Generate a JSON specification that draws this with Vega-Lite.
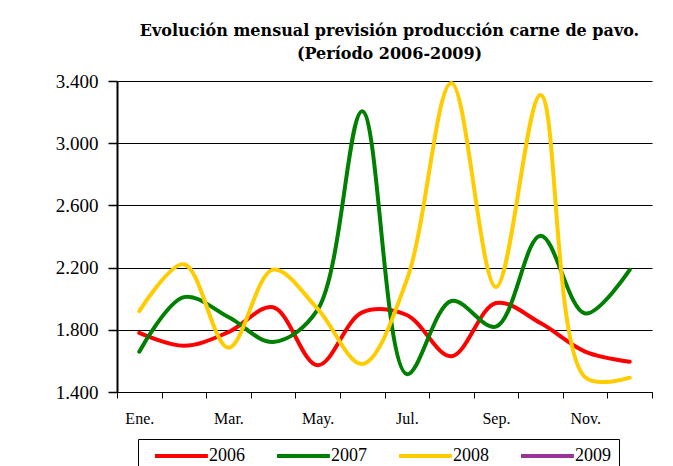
{
  "$schema": "https://vega.github.io/schema/vega-lite/v6.json",
  "autosize": "none",
  "padding": {"left": 117, "top": 81, "right": 21, "bottom": 74},
  "width": 535,
  "height": 311,
  "background": "white",
  "title": {
    "text": ["Evolución mensual previsión producción carne de pavo.", "(Período 2006-2009)"],
    "anchor": "middle",
    "font": "DejaVu Serif",
    "fontSize": 16,
    "fontWeight": "bold",
    "lineHeight": 23,
    "offset": 10,
    "color": "black",
    "dx": 5
  },
  "data": {
    "values": [
      {"mes": 1, "anio": "2006", "valor": 1780},
      {"mes": 2, "anio": "2006", "valor": 1697},
      {"mes": 3, "anio": "2006", "valor": 1785},
      {"mes": 4, "anio": "2006", "valor": 1945},
      {"mes": 5, "anio": "2006", "valor": 1572},
      {"mes": 6, "anio": "2006", "valor": 1912},
      {"mes": 7, "anio": "2006", "valor": 1895},
      {"mes": 8, "anio": "2006", "valor": 1630},
      {"mes": 9, "anio": "2006", "valor": 1972},
      {"mes": 10, "anio": "2006", "valor": 1843},
      {"mes": 11, "anio": "2006", "valor": 1660},
      {"mes": 12, "anio": "2006", "valor": 1595},
      {"mes": 1, "anio": "2007", "valor": 1659},
      {"mes": 2, "anio": "2007", "valor": 2010},
      {"mes": 3, "anio": "2007", "valor": 1882},
      {"mes": 4, "anio": "2007", "valor": 1722},
      {"mes": 5, "anio": "2007", "valor": 1930},
      {"mes": 6, "anio": "2007", "valor": 3205},
      {"mes": 7, "anio": "2007", "valor": 1515},
      {"mes": 8, "anio": "2007", "valor": 1985},
      {"mes": 9, "anio": "2007", "valor": 1820},
      {"mes": 10, "anio": "2007", "valor": 2405},
      {"mes": 11, "anio": "2007", "valor": 1905},
      {"mes": 12, "anio": "2007", "valor": 2185},
      {"mes": 1, "anio": "2008", "valor": 1920},
      {"mes": 2, "anio": "2008", "valor": 2222},
      {"mes": 3, "anio": "2008", "valor": 1685},
      {"mes": 4, "anio": "2008", "valor": 2187},
      {"mes": 5, "anio": "2008", "valor": 1935},
      {"mes": 6, "anio": "2008", "valor": 1580},
      {"mes": 7, "anio": "2008", "valor": 2120},
      {"mes": 8, "anio": "2008", "valor": 3387},
      {"mes": 9, "anio": "2008", "valor": 2075},
      {"mes": 10, "anio": "2008", "valor": 3310},
      {"mes": 11, "anio": "2008", "valor": 1495},
      {"mes": 12, "anio": "2008", "valor": 1492}
    ]
  },
  "mark": {"type": "line", "interpolate": "catmull-rom", "strokeCap": "round", "strokeJoin": "round"},
  "encoding": {
    "x": {
      "field": "mes",
      "type": "quantitative",
      "scale": {"domain": [0.5, 12.5], "nice": false, "zero": false},
      "axis": {
        "title": null,
        "values": [0.5, 1, 1.5, 2, 2.5, 3, 3.5, 4, 4.5, 5, 5.5, 6, 6.5, 7, 7.5, 8, 8.5, 9, 9.5, 10, 10.5, 11, 11.5, 12, 12.5],
        "labelExpr": "datum.value % 2 === 1 ? ['Ene.','Feb.','Mar.','Abr.','May.','Jun.','Jul.','Ago.','Sep.','Oct.','Nov.','Dic.'][datum.value - 1] : ''",
        "tickColor": {"condition": {"test": "datum.value % 1 === 0", "value": "transparent"}, "value": "black"},
        "tickWidth": 1,
        "grid": false,
        "domainColor": "black",
        "domainWidth": 1,
        "tickSize": 6,
        "labelFont": "Liberation Serif",
        "labelFontSize": 16,
        "labelColor": "black",
        "labelPadding": 12,
        "labelOverlap": false,
        "labelFlush": false,
        "labelBound": false
      }
    },
    "y": {
      "field": "valor",
      "type": "quantitative",
      "scale": {"domain": [1400, 3400], "nice": false, "zero": false},
      "axis": {
        "title": null,
        "values": [1400, 1800, 2200, 2600, 3000, 3400],
        "labelExpr": "replace(format(datum.value, ','), ',', '.')",
        "grid": true,
        "gridColor": "black",
        "gridWidth": 1,
        "gridOpacity": 1,
        "domainColor": "black",
        "domainWidth": 2,
        "tickColor": "black",
        "tickWidth": 1.5,
        "tickSize": 9,
        "labelFont": "Liberation Serif",
        "labelFontSize": 19,
        "labelColor": "black",
        "labelPadding": 10
      }
    },
    "color": {
      "field": "anio",
      "type": "nominal",
      "scale": {"domain": ["2006", "2007", "2008", "2009"], "range": ["#FF0000", "#008000", "#FFCC00", "#993399"]},
      "legend": {
        "title": null,
        "orient": "none",
        "legendX": 21,
        "legendY": 358,
        "direction": "horizontal",
        "strokeColor": "black",
        "padding": 8,
        "symbolType": "M0,0H10",
        "symbolSize": 112,
        "symbolStrokeWidth": 4,
        "labelFont": "Liberation Serif",
        "labelFontSize": 18,
        "labelColor": "black",
        "labelOffset": 45,
        "columnPadding": 23
      }
    },
    "strokeWidth": {
      "field": "anio",
      "type": "nominal",
      "scale": {"domain": ["2006", "2007", "2008", "2009"], "range": [4, 4, 4, 2]},
      "legend": {
        "title": null,
        "orient": "none",
        "legendX": 21,
        "legendY": 358,
        "direction": "horizontal",
        "strokeColor": "black",
        "padding": 8,
        "symbolType": "M0,0H10",
        "symbolSize": 112,
        "labelFont": "Liberation Serif",
        "labelFontSize": 18,
        "labelColor": "black",
        "labelOffset": 45,
        "columnPadding": 23
      }
    }
  },
  "config": {
    "view": {"stroke": null}
  }
}
